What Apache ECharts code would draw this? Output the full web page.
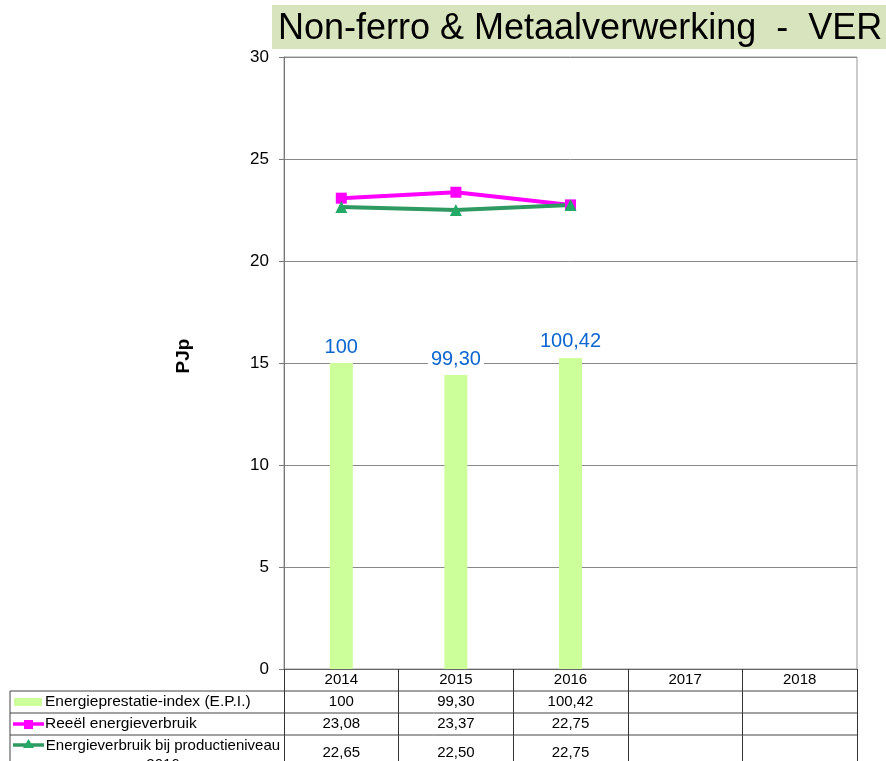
<!DOCTYPE html>
<html><head><meta charset="utf-8">
<script src="https://cdn.jsdelivr.net/npm/echarts@6/dist/echarts.min.js"></script>
<style>html,body{margin:0;padding:0;background:#fff}#c{width:886px;height:761px}</style>
</head><body><div id="c"></div>
<script>
var years = ['2014','2015','2016','2017','2018'];
var barHeights = [15.0, 14.41, 15.25];
var epiLabels = ['100','99,30','100,42'];
var reeel = [23.08, 23.37, 22.75];
var reeelLabels = ['23,08','23,37','22,75'];
var productie = [22.65, 22.50, 22.75];
var productieLabels = ['22,65','22,50','22,75'];
var yTicks = [0, 5, 10, 15, 20, 25, 30];
var rowNames = ['Energieprestatie-index (E.P.I.)','Reeël energieverbruik','Energieverbruik bij productieniveau\n2016'];
var titleText = 'Non-ferro & Metaalverwerking  -  VER';

var FONT = 'Liberation Sans, Arial, sans-serif';
var chart = echarts.init(document.getElementById('c'));
var option = {
  animation: false,
  textStyle: {fontFamily: FONT},
  grid: {left: 284, right: 29, top: 57, bottom: 92, show: true, borderColor: '#999', borderWidth: 1},
  xAxis: {
    type: 'category', data: years,
    axisLine: {lineStyle: {color: '#666'}},
    axisTick: {show: true, inside: false, length: 92, lineStyle: {color: '#333'}},
    axisLabel: {color: '#000', fontSize: 15, margin: 3, fontFamily: FONT}
  },
  yAxis: {
    type: 'value', min: yTicks[0], max: yTicks[yTicks.length-1], interval: 5,
    name: 'PJp', nameLocation: 'middle', nameGap: 91, nameRotate: 90,
    nameTextStyle: {fontWeight: 'bold', fontSize: 19, color: '#000', fontFamily: FONT, padding: [0, 0, 0, 14]},
    axisLine: {show: true, lineStyle: {color: '#777'}},
    axisTick: {show: true, length: 5, lineStyle: {color: '#777'}},
    axisLabel: {color: '#000', fontSize: 17, margin: 15, fontFamily: FONT},
    splitLine: {lineStyle: {color: '#888', width: 1}}
  },
  series: [
    {type: 'bar', data: barHeights, barWidth: 23, itemStyle: {color: '#ccff99'},
     label: {show: true, position: 'top', distance: 5, color: '#0a66d0', fontSize: 20, fontFamily: FONT,
             backgroundColor: '#fff', padding: [1, 3],
             formatter: function(p){ return epiLabels[p.dataIndex]; }}},
    {type: 'line', data: reeel, color: '#ff00ff', lineStyle: {width: 4, color: '#ff00ff'},
     symbol: 'rect', symbolSize: 11, itemStyle: {color: '#ff00ff'}},
    {type: 'line', data: productie, lineStyle: {width: 4, color: '#2e9960'},
     symbol: 'triangle', symbolSize: 12, itemStyle: {color: '#22aa66'}}
  ]
};
chart.setOption(option);

var g = [];
g.push({type: 'rect', shape: {x: 272, y: 5, width: 620, height: 44}, style: {fill: '#d7e4bd'}, z: 10});
g.push({type: 'text', x: 278, y: 29, style: {text: titleText, font: '36px ' + FONT, fill: '#000', textVerticalAlign: 'middle'}, z: 11});

var rowTops = [691, 713, 735];
var rowCenters = [702, 724, 753];
var L = 10, R = 857;
rowTops.forEach(function(y){
  g.push({type: 'line', shape: {x1: L, y1: y, x2: R, y2: y}, style: {stroke: '#444', lineWidth: 1}, z: 10});
});
g.push({type: 'line', shape: {x1: L, y1: 691, x2: L, y2: 761}, style: {stroke: '#444', lineWidth: 1}, z: 10});
// legend keys
g.push({type: 'rect', shape: {x: 14, y: 698, width: 28, height: 8}, style: {fill: '#ccff99'}, z: 10});
g.push({type: 'line', shape: {x1: 13, y1: 724, x2: 44, y2: 724}, style: {stroke: '#ff00ff', lineWidth: 3.5}, z: 10});
g.push({type: 'rect', shape: {x: 24, y: 720, width: 9, height: 9}, style: {fill: '#ff00ff'}, z: 11});
g.push({type: 'line', shape: {x1: 13, y1: 745, x2: 44, y2: 745}, style: {stroke: '#2e9960', lineWidth: 3.5}, z: 10});
g.push({type: 'polygon', shape: {points: [[28.5, 739], [23, 748], [34, 748]]}, style: {fill: '#22aa66'}, z: 11});
// row names
g.push({type: 'text', x: 45, y: rowCenters[0], style: {text: rowNames[0], font: '15.5px ' + FONT, fill: '#000', textVerticalAlign: 'middle'}, z: 10});
g.push({type: 'text', x: 45, y: rowCenters[1], style: {text: rowNames[1], font: '15.5px ' + FONT, fill: '#000', textVerticalAlign: 'middle'}, z: 10});
g.push({type: 'text', x: 163, y: 736, style: {text: rowNames[2], font: '15px ' + FONT, fill: '#000', lineHeight: 19, textAlign: 'center', textVerticalAlign: 'top'}, z: 10});
// values
var rows = [epiLabels, reeelLabels, productieLabels];
rows.forEach(function(arr, r){
  arr.forEach(function(v, i){
    var x = chart.convertToPixel({xAxisIndex: 0}, years[i]);
    g.push({type: 'text', x: x, y: rowCenters[r], style: {text: v, font: '15px ' + FONT, fill: '#000', textAlign: 'center', textVerticalAlign: 'middle'}, z: 10});
  });
});
chart.setOption({graphic: g});
</script></body></html>
